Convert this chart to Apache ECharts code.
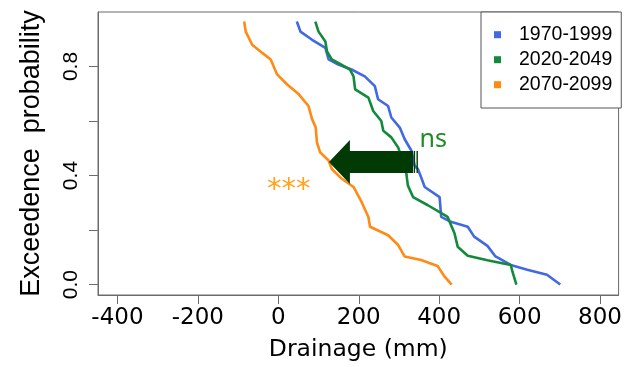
<!DOCTYPE html>
<html>
<head>
<meta charset="utf-8">
<title>Drainage exceedence</title>
<script src="https://cdn.jsdelivr.net/npm/echarts@6/dist/echarts.min.js"></script>
<style>
html, body { margin: 0; padding: 0; background: #fff; }
#chart { width: 625px; height: 367px; }
</style>
</head>
<body>
<div id="chart"></div>
<script>
// periods + colours
var periods = ['1970-1999', '2020-2049', '2070-2099'];
var colors = ['#4169E1', '#13893B', '#FF8A14'];

// drainage (mm) vs exceedence probability
var drain1970 = [46, 55, 84, 117, 125, 149, 182, 215, 240, 248, 273, 281, 302, 314, 331, 339, 347, 355, 364, 401, 405, 429, 471, 487, 520, 540, 578, 619, 668, 701];
var prob1970 = [0.965, 0.928, 0.898, 0.868, 0.826, 0.807, 0.789, 0.764, 0.728, 0.680, 0.655, 0.613, 0.576, 0.534, 0.491, 0.436, 0.424, 0.394, 0.358, 0.321, 0.248, 0.230, 0.212, 0.176, 0.142, 0.103, 0.072, 0.054, 0.036, 0.0];

var drain2020 = [92, 100, 117, 121, 133, 178, 187, 191, 224, 236, 256, 261, 281, 298, 318, 322, 335, 372, 421, 438, 446, 471, 520, 578, 582, 592];
var prob2020 = [0.965, 0.928, 0.892, 0.855, 0.826, 0.789, 0.764, 0.716, 0.686, 0.637, 0.600, 0.564, 0.540, 0.503, 0.412, 0.364, 0.321, 0.291, 0.248, 0.188, 0.139, 0.106, 0.089, 0.072, 0.048, 0.0];

var drain2070 = [-85, -81, -65, -40, -19, -3, 22, 51, 75, 84, 93, 96, 104, 125, 133, 158, 187, 207, 224, 228, 273, 298, 314, 355, 396, 413, 431];
var prob2070 = [0.965, 0.928, 0.880, 0.850, 0.826, 0.771, 0.734, 0.698, 0.655, 0.607, 0.576, 0.522, 0.485, 0.455, 0.424, 0.388, 0.358, 0.303, 0.248, 0.212, 0.181, 0.145, 0.103, 0.090, 0.068, 0.030, 0.0];

// axis ticks
var xTicks = [-400, -200, 0, 200, 400, 600, 800];
var yTicks = [0, 0.2, 0.4, 0.6, 0.8];
var yTickLabels = [0, 0.4, 0.8];

function zip(xs, ys) {
    var out = [];
    for (var i = 0; i < xs.length; i++) out.push([xs[i], ys[i]]);
    return out;
}

var allDrain = [drain1970, drain2020, drain2070];
var allProb = [prob1970, prob2020, prob2070];

var axisGray = '#6b6b6b';

var series = periods.map(function (p, i) {
    return {
        name: p,
        type: 'line',
        data: zip(allDrain[i], allProb[i]),
        showSymbol: false,
        symbol: 'none',
        color: colors[i],
        lineStyle: { width: 2.6, color: colors[i] },
        emphasis: { disabled: true }
    };
});

var chart = echarts.init(document.getElementById('chart'));
chart.setOption({
    animation: false,
    grid: {
        left: 98, right: 3, top: 12, bottom: 70,
        show: true, borderColor: axisGray, borderWidth: 1
    },
    legend: {
        orient: 'vertical',
        left: 481, top: 12,
        icon: 'rect',
        itemWidth: 7, itemHeight: 7, itemGap: 5,
        padding: [12.7, 9, 13.3, 13],
        borderColor: '#555', borderWidth: 1,
        backgroundColor: '#fff',
        itemStyle: { borderWidth: 0 },
        textStyle: { fontFamily: 'Liberation Sans', fontSize: 19.5, color: '#000', padding: [0, 0, 0, 13] },
        data: periods
    },
    xAxis: {
        type: 'value',
        min: -448.4, max: 846.1,
        name: 'Drainage (mm)',
        nameLocation: 'middle',
        nameGap: 43,
        nameTextStyle: { fontFamily: 'DejaVu Sans', fontSize: 23.5, color: '#000' },
        axisLine: { show: true, onZero: false, lineStyle: { color: axisGray } },
        axisTick: { show: true, length: 9, customValues: xTicks, lineStyle: { color: axisGray } },
        axisLabel: { customValues: xTicks, fontFamily: 'DejaVu Sans', fontSize: 23, color: '#000', margin: 12 },
        splitLine: { show: false }
    },
    yAxis: {
        type: 'value',
        min: -0.0383, max: 1.0,
        name: 'Exceedence  probability',
        nameLocation: 'middle',
        nameGap: 53,
        nameTextStyle: { fontFamily: 'Liberation Sans', fontSize: 27, color: '#000' },
        axisLine: { show: true, onZero: false, lineStyle: { color: axisGray } },
        axisTick: { show: true, length: 9, customValues: yTicks, lineStyle: { color: axisGray } },
        axisLabel: {
            customValues: yTickLabels, rotate: 90, margin: 16,
            fontFamily: 'Liberation Sans', fontSize: 21, color: '#000',
            formatter: function (v) { return v.toFixed(1); }
        },
        splitLine: { show: false }
    },
    series: series
});

// annotation: shift arrow + significance marks (placed in data coords)
var arrowTail = 335, arrowHeadBase = 178, arrowTip = 126, arrowY = 0.45;
function px(x, y) { return chart.convertToPixel({ gridIndex: 0 }, [x, y]); }

var tip = px(arrowTip, arrowY);
var hb = px(arrowHeadBase, arrowY);
var tl = px(arrowTail, arrowY);
var cy = tip[1];
var arrowColor = '#023a05';
var nsPos = px(385, 0.53);
var starPos = px(26, 0.345);
var bar1 = px(338.4, arrowY), bar2 = px(345.3, arrowY);

chart.setOption({
    graphic: [
        {
            type: 'polygon', z: 100,
            shape: { points: [
                [tip[0], cy], [hb[0], cy - 22], [hb[0], cy - 11], [tl[0], cy - 11],
                [tl[0], cy + 11], [hb[0], cy + 11], [hb[0], cy + 22]
            ] },
            style: { fill: arrowColor }
        },
        { type: 'line', z: 100, shape: { x1: bar1[0], y1: cy - 11, x2: bar1[0], y2: cy + 11 }, style: { stroke: arrowColor, lineWidth: 1.4 } },
        { type: 'line', z: 100, shape: { x1: bar2[0], y1: cy - 11, x2: bar2[0], y2: cy + 11 }, style: { stroke: arrowColor, lineWidth: 1.4 } },
        {
            type: 'text', z: 100, x: nsPos[0], y: nsPos[1],
            style: { text: 'ns', fill: '#1E8C24', font: '25px "Noto Sans"', align: 'center', verticalAlign: 'middle' }
        },
        {
            type: 'text', z: 100, x: starPos[0], y: starPos[1],
            style: { text: '***', fill: '#FFA31A', font: '29px "DejaVu Sans"', align: 'center', verticalAlign: 'middle' }
        }
    ]
});
</script>
</body>
</html>
